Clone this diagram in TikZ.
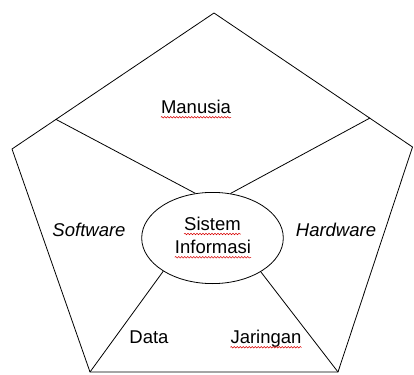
\documentclass[tikz,border=0pt]{standalone}
\usepackage{fontspec}
\setmainfont{Liberation Sans}
\usetikzlibrary{decorations.pathmorphing,shapes.geometric}
\begin{document}
\begin{tikzpicture}[x=1pt,y=-1pt,
  edge/.style={line width=0.8pt},
  lbl/.style={inner sep=0pt, anchor=base, font=\fontsize{18.5}{22}\selectfont},
  squig/.style={red!85!black, line width=0.5pt, decorate, decoration={snake, amplitude=0.8pt, segment length=3pt}}]
\useasboundingbox (0,0) rectangle (414,374);
\coordinate (T) at (214,13);
\coordinate (R) at (412.5,147);
\coordinate (BR) at (338,372);
\coordinate (BL) at (90,372);
\coordinate (L) at (12,149);
\coordinate (ML) at (56,119.4);
\coordinate (MR) at (370,118);
\draw[edge] (T)--(R)--(BR)--(BL)--(L)--cycle;
\node[draw, ellipse, line width=0.8pt, minimum width=141.6pt, minimum height=91.2pt, inner sep=0pt] (si) at (212.5,238) {};
\draw[edge] (ML) -- (si.111.3);
\draw[edge] (MR) -- (si.68.7);
\draw[edge] (si.214.7) -- (BL);
\draw[edge] (si.325.3) -- (BR);
\node[lbl] (man) at (196,113.3) {Manusia};
\node[lbl] (sw) at (89,236.7) {\itshape Software};
\node[lbl] (hw) at (336,236.7) {\itshape Hardware};
\node[lbl] (sis) at (212.5,230) {Sistem};
\node[lbl] (inf) at (213,253.3) {Informasi};
\node[lbl] (dat) at (149,343.3) {Data};
\node[lbl] (jar) at (266,343.3) {Jaringan};
\foreach \n in {man,sis,inf,jar}
  \draw[squig] ([yshift=-4pt]\n.base west) -- ([yshift=-4pt]\n.base east);
\end{tikzpicture}
\end{document}
